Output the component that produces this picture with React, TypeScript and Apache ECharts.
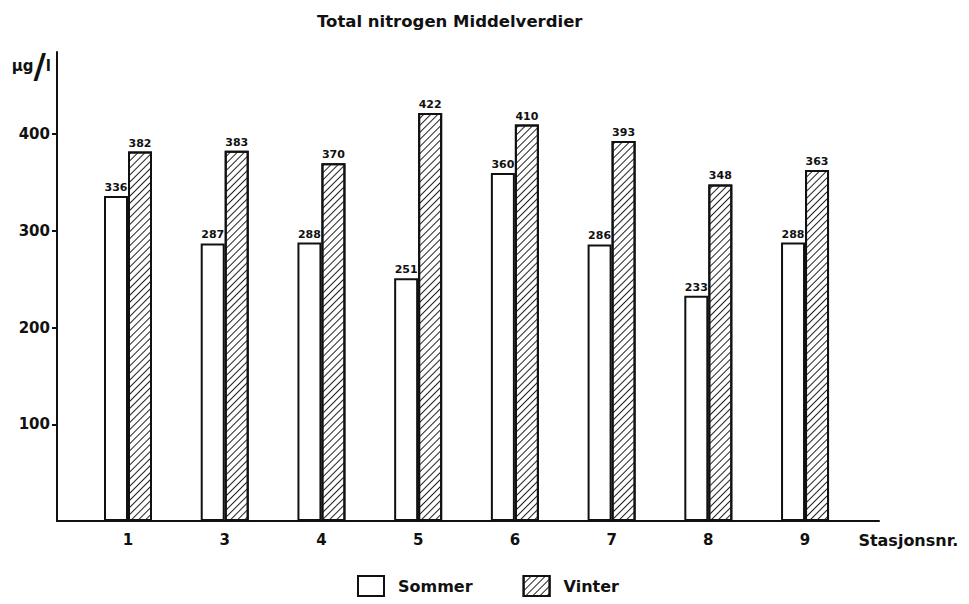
import React, { useEffect, useRef } from "react";
import * as echarts from "echarts";

const categories = ["1", "3", "4", "5", "6", "7", "8", "9"];
const sommer = [336, 287, 288, 251, 360, 286, 233, 288];
const vinter = [382, 383, 370, 422, 410, 393, 348, 363];
const yTicks = [100, 200, 300, 400];
const seriesNames = ["Sommer", "Vinter"];

const FONT = "DejaVu Sans";

export default function App() {
  const ref = useRef<HTMLDivElement>(null);
  useEffect(() => {
    document.body.style.margin = "0";
    const chart = echarts.init(ref.current!, null, { renderer: "svg" });
    const labelStyle = {
      show: true,
      position: "top",
      distance: 3,
      fontFamily: FONT,
      fontWeight: "bold",
      fontSize: 11,
      color: "#111",
    };
    chart.setOption({
      animation: false,
      backgroundColor: "#fff",
      title: {
        text: "Total nitrogen Middelverdier",
        left: 312,
        top: 8,
        textStyle: { fontFamily: FONT, fontWeight: "bold", fontSize: 16.5, color: "#111" },
      },
      legend: {
        data: seriesNames,
        left: 357,
        top: 575,
        icon: "rect",
        itemWidth: 26,
        itemHeight: 20,
        itemGap: 50,
        padding: 0,
        textStyle: { fontFamily: FONT, fontWeight: "bold", fontSize: 16, color: "#111", padding: [3, 0, 0, 9] },
      },
      grid: [
        { left: 79.64, right: 115.6, top: 52, bottom: 83 },
        { left: 57, right: 90, top: 52, bottom: 83 },
      ],
      xAxis: [
        {
          type: "category",
          gridIndex: 0,
          data: categories,
          axisLine: { show: false },
          axisTick: { show: false },
          axisLabel: { margin: 11, fontFamily: FONT, fontWeight: "bold", fontSize: 15, color: "#111" },
          name: "Stasjonsnr.",
          nameLocation: "end",
          nameGap: 5,
          nameTextStyle: {
            fontFamily: FONT,
            fontWeight: "bold",
            fontSize: 16,
            color: "#111",
            align: "left",
            verticalAlign: "top",
            padding: [11, 0, 0, 0],
          },
        },
        {
          type: "value",
          gridIndex: 1,
          min: 0,
          max: 1,
          axisLine: { show: true, lineStyle: { color: "#111", width: 2 } },
          axisTick: { show: false },
          axisLabel: { show: false },
          splitLine: { show: false },
        },
      ],
      yAxis: [
        {
          type: "value",
          gridIndex: 0,
          min: 0,
          max: 485,
          interval: 100,
          offset: 22.64,
          axisLine: { show: true, lineStyle: { color: "#111", width: 2 } },
          axisTick: { show: true, length: 5, customValues: yTicks, lineStyle: { color: "#111", width: 2 } },
          axisLabel: {
            customValues: yTicks,
            margin: 7,
            fontFamily: FONT,
            fontWeight: "bold",
            fontSize: 15,
            color: "#111",
          },
          splitLine: { show: false },
          name: "{a|µg}{b|/}{c|l}",
          nameLocation: "end",
          nameGap: -14,
          nameTextStyle: {
            align: "right",
            verticalAlign: "middle",
            padding: [0, 6, 0, 0],
            rich: {
              a: { fontFamily: FONT, fontWeight: "bold", fontSize: 15, color: "#111" },
              b: { fontFamily: FONT, fontWeight: "bold", fontSize: 34, color: "#111" },
              c: { fontFamily: FONT, fontWeight: "bold", fontSize: 15, color: "#111" },
            },
          },
        },
        { type: "value", gridIndex: 1, min: 0, max: 1, show: false },
      ],
      series: [
        {
          name: seriesNames[0],
          type: "bar",
          xAxisIndex: 0,
          yAxisIndex: 0,
          data: sommer,
          barWidth: 24,
          barGap: "0%",
          itemStyle: { color: "#fff", borderColor: "#111", borderWidth: 2 },
          label: labelStyle,
        },
        {
          name: seriesNames[1],
          type: "bar",
          xAxisIndex: 0,
          yAxisIndex: 0,
          data: vinter,
          barWidth: 24,
          barGap: "0%",
          itemStyle: {
            color: "#fff",
            borderColor: "#111",
            borderWidth: 2,
            decal: {
              symbol: "rect",
              symbolSize: 1,
              dashArrayX: [1, 0],
              dashArrayY: [1, 4],
              rotation: -Math.PI / 4,
              color: "#222",
              backgroundColor: "#fff",
            },
          },
          label: labelStyle,
        },
      ],
    });
    return () => chart.dispose();
  }, []);
  return (
    <div
      ref={ref}
      style={{ position: "fixed", left: 0, top: 0, width: 969, height: 604 }}
    />
  );
}
